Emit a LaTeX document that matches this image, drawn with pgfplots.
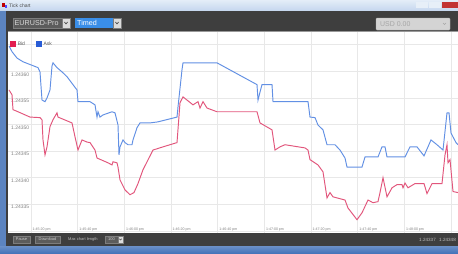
\documentclass[border=0pt]{standalone}
\usepackage{pgfplots}
\pgfplotsset{compat=1.18}
\usepackage{fontspec}
\setmainfont{Liberation Sans}
\definecolor{askline}{RGB}{98,144,228}
\definecolor{bidline}{RGB}{226,86,124}
\definecolor{asksq}{RGB}{40,92,214}
\definecolor{bidsq}{RGB}{226,30,80}
\definecolor{tb}{RGB}{62,62,62}
\definecolor{frameblue}{RGB}{92,132,192}
\definecolor{bottomblue}{RGB}{70,116,186}
\definecolor{titletop}{RGB}{228,237,248}
\definecolor{titlebot}{RGB}{196,214,238}
\definecolor{btn}{RGB}{92,92,92}
\definecolor{btnborder}{RGB}{125,125,125}
\definecolor{boxlight}{RGB}{220,220,220}
\definecolor{timedblue}{RGB}{58,142,232}
\definecolor{usdfill}{RGB}{212,212,212}
\definecolor{gridc}{RGB}{232,232,232}
\definecolor{ticktext}{RGB}{130,130,130}
\begin{document}
\begin{tikzpicture}[x=1bp,y=1bp]
\path[use as bounding box] (0,0) rectangle (458,253);
\fill[frameblue] (0,0) rectangle (458,253);
\shade[top color=titletop, bottom color=titlebot] (0,242) rectangle (458,253);
\shade[top color=bottomblue!80!white, bottom color=bottomblue] (0,0) rectangle (458,7);
\fill[tb] (6,7) rectangle (458,242);
\fill[black!40] (8,221) rectangle (458,222);
\begin{axis}[
  at={(8bp,20bp)}, anchor=south west,
  width=450bp, height=201bp, scale only axis,
  xmin=8, xmax=458, ymin=29.6, ymax=67.4,
  axis line style={draw=none},
  axis background/.style={fill=white},
  xtick={31,77.67,124.33,171,217.67,264.33,311,357.67,404.33,451},
  xticklabels={1:45:20 pm,1:45:40 pm,1:46:00 pm,1:46:20 pm,1:46:40 pm,1:47:00 pm,1:47:20 pm,1:47:40 pm,1:48:00 pm,{}},
  ytick={30,35,40,45,50,55,60,65},
  yticklabels={{},1.24335,1.24340,1.24345,1.24350,1.24355,1.24360,{}},
  grid=major, major grid style={draw=gridc, line width=0.6bp},
  tick style={draw=none},
  /pgf/number format/assume math mode=true,
  xticklabel style={anchor=south west, inner sep=0pt, xshift=1.5bp, yshift=1.5bp, text=ticktext, font=\fontsize{3.6}{4}\selectfont},
  yticklabel style={anchor=north west, inner sep=0pt, xshift=3bp, yshift=-1bp, text=ticktext, font=\fontsize{5}{6}\selectfont},
  legend columns=2,
  legend image code/.code={\fill[#1] (0bp,-2.8bp) rectangle (5.6bp,2.8bp);},
  legend style={at={(axis description cs:0,1)}, anchor=north west, draw=none, fill=none,
    xshift=2bp, yshift=-7.5bp, inner sep=0pt, font=\fontsize{5}{6}\selectfont, text=black!65,
    /tikz/every even column/.append style={column sep=9bp}},
]
\addlegendimage{fill=bidsq, draw=none}
\addlegendentry{Bid}
\addlegendimage{fill=asksq, draw=none}
\addlegendentry{Ask}
% Ask
\addplot[askline, line width=0.95bp, forget plot] coordinates {
(9,64.8)(12,63.7)(17,62.5)(23,61.8)(38,60.7)(40,59.9)(42,54.6)(45,54.3)(47,55.0)(50,56.5)(52,61.0)(53,61.6)(57,60.7)(62,59.9)(67,59.0)(73,57.5)(77,56.5)(78,54.3)(90,54.3)(95,53.7)(97,51.4)(98,52.4)(100,51.4)(103,51.8)(112,52.4)(115,52.2)(118,49.9)(119,44.3)(120,45.8)(123,47.1)(125,46.6)(128,46.2)(132,46.2)(133,47.1)(137,49.4)(140,50.3)(150,50.3)(158,50.5)(177,51.4)(178,53.3)(182,60.3)(183,61.6)(217,61.6)(257,57.5)(258,54.6)(260,56.1)(262,57.5)(272,57.5)(273,54.3)(308,54.3)(310,51.4)(315,51.3)(318,49.9)(323,49.0)(327,46.2)(335,46.2)(340,45.2)(345,43.7)(347,42.0)(362,42.0)(365,43.9)(378,43.9)(382,45.8)(385,45.8)(387,43.9)(405,43.9)(410,45.8)(417,45.8)(424,44.1)(431,47.1)(437,46.2)(443,45.2)(447,52.2)(449,52.2)(451,48.4)(456,46.6)(458,46.2)
};
% Bid
\addplot[bidline, line width=0.95bp, forget plot] coordinates {
(9,56.5)(12,55.6)(13,52.8)(18,52.4)(30,51.4)(40,51.3)(42,50.9)(43,47.1)(45,44.3)(47,45.8)(50,49.6)(53,50.9)(57,52.2)(58,51.4)(72,50.3)(75,47.7)(78,45.2)(82,47.1)(87,46.7)(90,46.6)(95,45.2)(97,43.7)(108,42.8)(112,42.4)(113,43.0)(117,42.8)(118,42.0)(120,39.6)(125,37.7)(130,36.8)(134,37.2)(138,38.9)(143,41.5)(153,45.2)(163,45.8)(177,46.6)(180,54.1)(183,55.2)(187,54.6)(193,53.7)(198,54.3)(200,53.1)(203,54.3)(207,53.1)(217,52.4)(257,52.4)(260,50.3)(272,49.0)(275,45.2)(280,45.8)(285,46.2)(305,45.6)(308,45.2)(310,43.4)(318,42.4)(323,41.1)(327,36.2)(330,37.2)(333,36.4)(345,35.8)(348,34.3)(357,32.1)(362,33.4)(368,35.8)(373,35.3)(378,35.5)(380,37.2)(383,40.0)(387,36.4)(392,38.1)(397,38.7)(402,38.7)(403,38.1)(405,39.0)(408,38.1)(415,38.9)(424,38.9)(427,37.0)(432,38.9)(442,38.9)(445,44.3)(447,46.2)(448,42.8)(450,43.4)(453,37.4)(458,37.2)
};
\end{axis}
% title bar
\fill[red!75!black] (2,245.5) rectangle (5,249.5);
\fill[blue!70] (4.5,244.5) rectangle (7,247.5);
\node[anchor=west, inner sep=0pt, font=\fontsize{5}{6}\selectfont, text=black!70] at (9,247.5) {Tick chart};
\fill[white!60!titlebot] (416,245) rectangle (428,251);
\fill[white!60!titlebot] (429,245) rectangle (441,251);
\fill[red!70!black!80] (442,245) rectangle (458,251);
% toolbar
\draw[fill=btn, draw=btnborder] (13,225) rectangle (62,235);
\node[anchor=west, inner sep=0pt, font=\fontsize{7.2}{8}\selectfont, text=white!85!black] at (14.5,230) {EURUSD-Pro};
\draw[fill=boxlight, draw=btnborder] (62,225) rectangle (70,235);
\draw[black!70, line width=0.7bp] (64.3,231) -- (66,229.2) -- (67.7,231);
\fill[timedblue] (75,225) rectangle (113,235);
\node[anchor=west, inner sep=0pt, font=\fontsize{7.2}{8}\selectfont, text=white] at (77,230) {Timed};
\draw[fill=boxlight, draw=btnborder] (113,225) rectangle (121,235);
\draw[black!70, line width=0.7bp] (115.3,231) -- (117,229.2) -- (118.7,231);
\draw[fill=usdfill, draw=black!30, rounded corners=1bp] (376,223) rectangle (450,235);
\node[anchor=west, inner sep=0pt, font=\fontsize{7}{8}\selectfont, text=black!35] at (380,229) {USD 0.00};
\draw[black!35, line width=0.6bp] (443,230) -- (444.5,228.5) -- (446,230);
% bottom bar
\draw[fill=btn, draw=btnborder] (13,10) rectangle (30,17);
\node[inner sep=0pt, font=\fontsize{4}{5}\selectfont, text=white!80!black] at (21.5,13.5) {Pause};
\draw[fill=btn, draw=btnborder] (35,10) rectangle (60,17);
\node[inner sep=0pt, font=\fontsize{4}{5}\selectfont, text=white!80!black] at (47.5,13.5) {Download};
\node[anchor=west, inner sep=0pt, font=\fontsize{4}{5}\selectfont, text=white!75!black] at (68,13.5) {Max chart length};
\draw[fill=btn, draw=btnborder] (105,10) rectangle (118,17);
\node[inner sep=0pt, font=\fontsize{4}{5}\selectfont, text=white!80!black] at (111.5,13.5) {100};
\draw[fill=boxlight, draw=btnborder] (118,10) rectangle (123,17);
\draw[black!70, line width=0.5bp] (119.3,14.3) -- (120.5,13) -- (121.7,14.3);
\node[anchor=east, inner sep=0pt, font=\fontsize{4.6}{5}\selectfont, text=white!75!black] at (436,13.5) {1.24337};
\node[anchor=east, inner sep=0pt, font=\fontsize{4.6}{5}\selectfont, text=white!75!black] at (456,13.5) {1.24348};
\end{tikzpicture}
\end{document}
